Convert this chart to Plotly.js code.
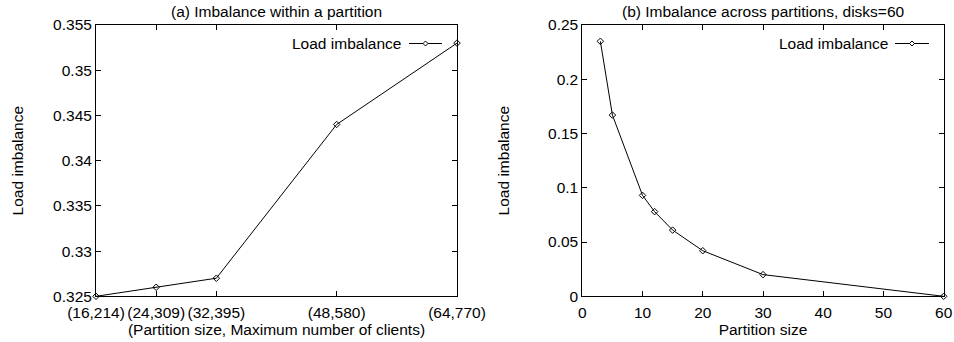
<!DOCTYPE html>
<html>
<head>
<meta charset="utf-8">
<script src="https://cdn.plot.ly/plotly-3.0.1.min.js"></script>
<style>html,body{margin:0;padding:0;background:#fff;}#chart{width:954px;height:342px;}</style>
</head>
<body>
<div id="chart"></div>
<script>
// (a) Imbalance within a partition
const partitionSizeA = [16, 24, 32, 48, 64];
const partitionLabelsA = ["(16,214)", "(24,309)", "(32,395)", "(48,580)", "(64,770)"];
const imbalanceA = [0.325, 0.326, 0.327, 0.344, 0.353];
const yTicksA = [0.325, 0.33, 0.335, 0.34, 0.345, 0.35, 0.355];
const yTickLabelsA = ["0.325", "0.33", "0.335", "0.34", "0.345", "0.35", "0.355"];

// (b) Imbalance across partitions, disks=60
const partitionSizeB = [3, 5, 10, 12, 15, 20, 30, 60];
const imbalanceB = [0.235, 0.167, 0.093, 0.078, 0.061, 0.042, 0.020, 0.0];
const xTicksB = [0, 10, 20, 30, 40, 50, 60];
const yTicksB = [0, 0.05, 0.1, 0.15, 0.2, 0.25];
const yTickLabelsB = ["0", "0.05", "0.1", "0.15", "0.2", "0.25"];

const seriesName = "Load imbalance";

const W = 954, H = 342;
const FONT = "Liberation Sans, Arial, Helvetica, sans-serif";
const FS = 15.5;
const px = v => v / W;
const py = v => 1 - v / H;

const marker = {symbol: "diamond-open", size: 5, color: "#000", line: {color: "#000", width: 1}};
const lineStyle = {color: "#000", width: 1};

const traces = [
  {x: partitionSizeA, y: imbalanceA, type: "scatter", mode: "lines+markers", name: seriesName,
   xaxis: "x", yaxis: "y", line: lineStyle, marker: marker, showlegend: false, cliponaxis: false},
  {x: partitionSizeB, y: imbalanceB, type: "scatter", mode: "lines+markers", name: seriesName,
   xaxis: "x2", yaxis: "y2", line: lineStyle, marker: marker, showlegend: false, cliponaxis: false}
];

const axisCommon = {
  showgrid: false, zeroline: false, showline: true, linecolor: "#000", linewidth: 1,
  mirror: "allticks", ticks: "inside", ticklen: 5, tickwidth: 1, tickcolor: "#000",
  tickfont: {family: FONT, size: FS, color: "#000"}, automargin: false, tickangle: 0
};
const titleFont = {family: FONT, size: FS, color: "#000"};

function legendSample(xTextRight, x0, x1, y) {
  const xm = (x0 + x1) / 2, d = 2.5;
  return {
    ann: {xref: "paper", yref: "paper", x: px(xTextRight), y: py(y), xanchor: "right", yanchor: "middle",
          text: seriesName, showarrow: false, font: titleFont},
    shapes: [
      {type: "line", xref: "paper", yref: "paper", x0: px(x0), x1: px(x1), y0: py(y), y1: py(y),
       line: {color: "#000", width: 1}},
      {type: "path", xref: "paper", yref: "paper",
       path: `M ${px(xm - d)} ${py(y)} L ${px(xm)} ${py(y - d)} L ${px(xm + d)} ${py(y)} L ${px(xm)} ${py(y + d)} Z`,
       line: {color: "#000", width: 1}, fillcolor: "#fff"}
    ]
  };
}
const legA = legendSample(403, 409, 442, 43.5);
const legB = legendSample(890, 895, 929, 43.5);

const layout = {
  width: W, height: H,
  margin: {l: 0, r: 0, t: 0, b: 0},
  paper_bgcolor: "#fff", plot_bgcolor: "#fff",
  font: {family: FONT, size: FS, color: "#000"},
  showlegend: false,
  xaxis: Object.assign({}, axisCommon, {
    domain: [px(96), px(457)], range: [16, 64], tickvals: partitionSizeA, ticktext: partitionLabelsA,
    anchor: "y", ticklabelstandoff: 2,
    title: {text: "(Partition size, Maximum number of clients)", font: titleFont, standoff: 1}
  }),
  yaxis: Object.assign({}, axisCommon, {
    domain: [1 - 296.3 / H, 1 - 25 / H], range: [0.325, 0.355], tickvals: yTicksA, ticktext: yTickLabelsA,
    anchor: "x",
    title: {text: "Load imbalance", font: titleFont, standoff: 25}
  }),
  xaxis2: Object.assign({}, axisCommon, {
    domain: [px(582.3), px(943.7)], range: [0, 60], tickvals: xTicksB,
    anchor: "y2", ticklabelstandoff: 2,
    title: {text: "Partition size", font: titleFont, standoff: 1}
  }),
  yaxis2: Object.assign({}, axisCommon, {
    domain: [1 - 296.3 / H, 1 - 25 / H], range: [0, 0.25], tickvals: yTicksB, ticktext: yTickLabelsB,
    anchor: "x2",
    title: {text: "Load imbalance", font: titleFont, standoff: 34}
  }),
  annotations: [
    {xref: "paper", yref: "paper", x: px(276.5), y: py(11), xanchor: "center", yanchor: "middle",
     text: "(a) Imbalance within a partition", showarrow: false, font: titleFont},
    {xref: "paper", yref: "paper", x: px(763), y: py(11), xanchor: "center", yanchor: "middle",
     text: "(b) Imbalance across partitions, disks=60", showarrow: false, font: titleFont},
    legA.ann, legB.ann
  ],
  shapes: [].concat(legA.shapes, legB.shapes)
};

Plotly.newPlot("chart", traces, layout, {displayModeBar: false, staticPlot: true});
</script>
</body>
</html>
